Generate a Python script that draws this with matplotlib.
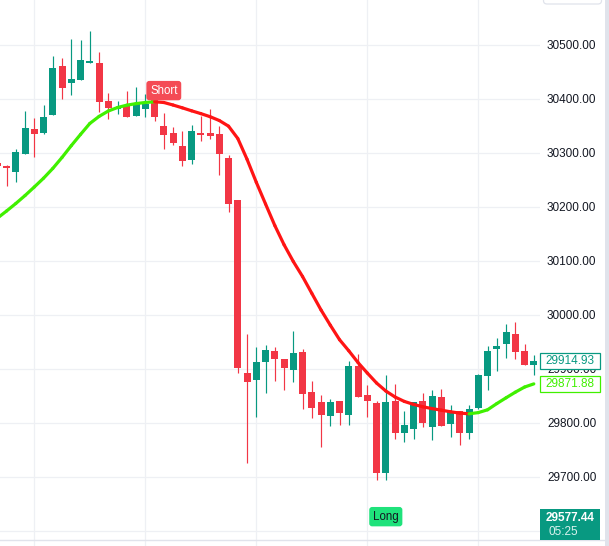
import matplotlib
matplotlib.use("Agg")
import matplotlib.pyplot as plt
import matplotlib.transforms as mtransforms
from matplotlib.patches import Rectangle, FancyBboxPatch
from matplotlib.collections import LineCollection
from matplotlib.lines import Line2D
import numpy as np

plt.rcParams['font.family'] = ['Liberation Sans', 'DejaVu Sans']

# ---------------- data ----------------
bar_index = list(range(-1, 58))
opens = [30280.9, 30275.9, 30264.8, 30298.1, 30343.9, 30336.5, 30370.4, 30460.5, 30429.6, 30434.6,
         30466.7, 30466.1, 30395.7, 30380.4, 30386.5, 30368.5, 30381.5, 30399.4, 30349.4, 30336.5,
         30312.9, 30287.0, 30336.5, 30336.5, 30334.6, 30290.2, 30212.4, 29891.5, 29879.6, 29913.0,
         29932.8, 29917.9, 29898.1, 29930.9, 29856.9, 29838.3, 29813.0, 29840.2, 29814.8, 29905.0,
         29851.3, 29836.5, 29706.3, 29840.2, 29780.4, 29788.9, 29840.2, 29792.6, 29848.2, 29798.1,
         29821.6, 29781.5, 29827.8, 29887.0, 29937.0, 29946.3, 29964.3, 29932.8, 29906.9]
highs = [30284.6, 30277.2, 30306.9, 30377.2, 30364.8, 30388.3, 30479.1, 30475.4, 30510.6, 30508.7,
         30525.4, 30486.5, 30410.0, 30395.7, 30414.8, 30421.1, 30408.1, 30403.2, 30372.9, 30348.1,
         30340.2, 30351.3, 30368.5, 30381.5, 30349.4, 30295.7, 30212.4, 29964.3, 29940.2, 29943.9,
         29940.2, 29917.9, 29969.8, 29936.5, 29877.2, 29851.3, 29843.9, 29840.2, 29914.3, 29927.2,
         29869.8, 29840.2, 29888.3, 29871.7, 29821.6, 29838.3, 29855.5, 29861.1, 29863.0, 29833.3,
         29821.6, 29833.3, 29890.2, 29942.0, 29956.9, 29982.8, 29986.5, 29945.7, 29925.4]
lows = [30271.7, 30238.9, 30246.3, 30298.1, 30292.6, 30334.6, 30370.4, 30400.0, 30407.4, 30434.6,
        30466.7, 30376.0, 30363.0, 30372.2, 30366.7, 30368.5, 30366.7, 30359.3, 30307.4, 30314.8,
        30275.9, 30279.6, 30322.2, 30325.9, 30259.3, 30190.8, 29892.6, 29725.9, 29811.1, 29855.5,
        29877.8, 29861.1, 29875.9, 29825.9, 29809.3, 29755.6, 29794.4, 29796.3, 29796.3, 29848.2,
        29811.1, 29693.9, 29693.9, 29770.0, 29765.0, 29770.0, 29792.6, 29768.0, 29794.4, 29772.9,
        29759.2, 29770.4, 29825.9, 29861.1, 29896.3, 29920.4, 29918.5, 29906.9, 29888.3]
closes = [30275.4, 30272.2, 30300.7, 30345.7, 30335.2, 30366.1, 30456.9, 30420.4, 30436.5, 30471.7,
          30469.8, 30394.5, 30383.3, 30383.3, 30366.7, 30390.2, 30390.2, 30366.7, 30333.4, 30318.5,
          30285.2, 30340.2, 30333.4, 30331.5, 30298.1, 30205.6, 29901.9, 29875.9, 29912.4, 29934.6,
          29918.5, 29901.9, 29929.1, 29853.7, 29827.8, 29814.8, 29838.3, 29818.5, 29905.0, 29848.2,
          29840.7, 29706.3, 29838.3, 29780.4, 29795.7, 29838.3, 29798.9, 29850.0, 29794.4, 29819.8,
          29781.5, 29825.4, 29888.3, 29932.8, 29942.0, 29968.0, 29931.5, 29906.9, 29914.93]
ma_values = [30178.7, 30192.0, 30205.9, 30220.7, 30236.5, 30252.8, 30270.9, 30291.3, 30313.1, 30333.9,
             30354.1, 30367.2, 30377.2, 30383.7, 30388.0, 30390.9, 30393.0, 30394.3, 30393.0, 30388.3,
             30383.1, 30377.6, 30372.4, 30366.7, 30359.6, 30349.1, 30326.3, 30287.8, 30245.2, 30205.0,
             30165.2, 30129.6, 30098.5, 30070.7, 30039.6, 30008.7, 29980.6, 29953.7, 29933.1, 29911.3,
             29892.0, 29873.5, 29858.7, 29847.6, 29839.4, 29833.9, 29829.5, 29826.1, 29823.2, 29820.2,
             29817.8, 29816.5, 29818.7, 29823.9, 29835.4, 29846.1, 29856.5, 29866.0, 29871.88]

grid_prices = [29600, 29700, 29800, 29900, 30000, 30100, 30200, 30300, 30400, 30500]
labeled_prices = [29700, 29800, 29900, 30000, 30100, 30200, 30300, 30400, 30500]
time_grid_bars = [3, 15, 27, 39, 51]

last_price_text = "29914.93"
ma_price_text = "29871.88"
cursor_price_text = "29577.44"
countdown_text = "05:25"
short_bar, short_price = 17, 30415.0
long_bar, long_price = 41, 29626.0

# ---------------- styling ----------------
W, H = 609, 546
UP, DOWN = '#089981', '#f23645'
MA_UP, MA_DOWN = '#40f000', '#ff1414'
GRID = '#eef0f4'
TXT = '#131722'

fig = plt.figure(figsize=(W / 100, H / 100), dpi=100)
fig.patch.set_facecolor('white')

ax = fig.add_axes([0, 6 / H, 540 / W, 540 / H])
xlim = (-0.708, 57.67)
ylim = (29582.78, 30582.78)
ax.set_xlim(*xlim)
ax.set_ylim(*ylim)
px = (ylim[1] - ylim[0]) / 540.0  # price units per pixel

x = np.array(bar_index, dtype=float)
o = np.array(opens); h = np.array(highs); l = np.array(lows); c = np.array(closes)
up = c >= o
cols = np.where(up, UP, DOWN)

ax.vlines(x, l, h, colors=cols, lw=0.85, zorder=2)
body_bottom = np.minimum(o, c)
body_h = np.maximum(np.abs(c - o), 1.3 * px)
ax.bar(x, body_h, 0.76, bottom=body_bottom, color=cols, lw=0, zorder=3)

ma = np.array(ma_values)
pts = np.column_stack([x, ma])
segs = np.stack([pts[:-1], pts[1:]], axis=1)
seg_cols = [MA_UP if d >= 0 else MA_DOWN for d in np.diff(ma)]
lc = LineCollection(segs, colors=seg_cols, linewidths=2.3, capstyle='round', joinstyle='round', zorder=4)
ax.add_collection(lc)

ax.set_xticks(time_grid_bars)
ax.set_yticks(grid_prices)
ax.set_yticklabels([f"{p:.2f}" if p in labeled_prices else "" for p in grid_prices])
ax.grid(True, color=GRID, lw=0.9, zorder=0)
ax.yaxis.tick_right()
ax.tick_params(axis='y', length=0, pad=5.0, labelsize=8.5, labelcolor=TXT)
ax.tick_params(axis='x', length=0, labelbottom=False)
for s in ax.spines.values():
    s.set_visible(False)

# labels on chart
ax.text(short_bar, short_price, 'Short', ha='center', va='center', color='white', fontsize=8.3,
        zorder=6, bbox=dict(boxstyle='round,pad=0.32,rounding_size=0.25', fc='#f44b55', ec='none'))
ax.text(long_bar, long_price, 'Long', ha='center', va='center', color=TXT, fontsize=8.3,
        zorder=6, bbox=dict(boxstyle='round,pad=0.32,rounding_size=0.25', fc='#1fe27b', ec='none'))

# bottom pane
ax2 = fig.add_axes([0, 0, 540 / W, 6 / H])
ax2.set_xlim(*xlim)
ax2.set_xticks(time_grid_bars)
ax2.set_yticks([])
ax2.grid(True, axis='x', color=GRID, lw=0.9)
ax2.tick_params(axis='x', length=0, labelbottom=False)
for s in ax2.spines.values():
    s.set_visible(False)

fig.add_artist(Line2D([0, 605 / W], [6 / H, 6 / H], color='#e0e3eb', lw=1.0, transform=fig.transFigure))
fig.add_artist(Rectangle((605 / W, 0), 4 / W, 1, transform=fig.transFigure, fc='#e0e3eb', ec='none'))
fig.add_artist(FancyBboxPatch((543.5 / W, 1 - 4 / H), 58 / W, 14 / H,
                              boxstyle='round,pad=0,rounding_size=0.006', transform=fig.transFigure,
                              fc='white', ec='#e0e3eb', lw=0.9))

# price-scale boxes
tr = mtransforms.blended_transform_factory(fig.transFigure, ax.transData)
def price_box(price, text, face, edge, tcolor):
    hh = 16 * px
    r = Rectangle((539.5 / W, price - hh / 2), 60.5 / W, hh, transform=tr, fc=face, ec=edge,
                  lw=0.9, zorder=10)
    fig.add_artist(r)
    fig.text(570 / W, price, text, transform=tr, ha='center', va='center', color=tcolor,
             fontsize=8.5, zorder=11)

price_box(closes[-1], last_price_text, 'white', UP, UP)
price_box(ma_values[-1], ma_price_text, 'white', MA_UP, MA_UP)

fig.add_artist(Rectangle((539.5 / W, 6 / H), 60.5 / W, 31 / H, transform=fig.transFigure,
                         fc=UP, ec='none', zorder=10))
fig.text(570 / W, 1 - 518 / H, cursor_price_text, ha='center', va='center', color='white',
         fontsize=8.5, fontweight='bold', zorder=11)
fig.text(563 / W, 1 - 532 / H, countdown_text, ha='center', va='center', color='#d9f2ee',
         fontsize=8.5, zorder=11)

fig.savefig('out.png', dpi=100, facecolor='white')
